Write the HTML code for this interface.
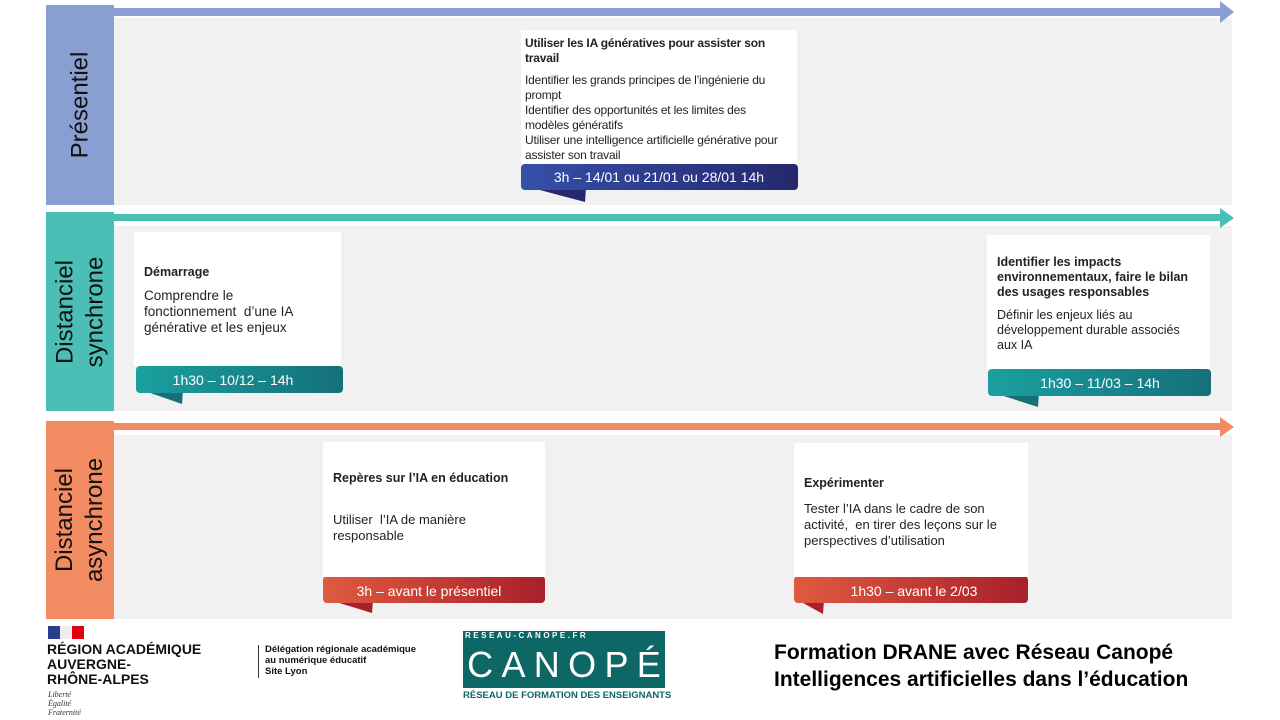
<!DOCTYPE html>
<html><head><meta charset="utf-8"><style>
*{margin:0;padding:0;box-sizing:border-box}
body{width:1280px;height:720px;background:#fff;position:relative;overflow:hidden;font-family:"Liberation Sans","DejaVu Sans",sans-serif;}
.a{position:absolute}
.lab{position:absolute;left:46px;width:68px;display:flex;align-items:center;justify-content:center;color:#111;}
.lab span{transform:rotate(-90deg);white-space:nowrap;font-size:24px;line-height:30px;text-align:center}
.gray{position:absolute;background:#f1f1f1;left:114px;width:1118px}
.card{position:absolute;background:#fff;font-size:12.5px;color:#222;line-height:15px;padding:8px 10px}
.card b{display:block;font-size:12.5px;margin-bottom:10px}
</style></head><body>
<div class="gray" style="top:18px;height:187px"></div>
<div class="lab" style="top:5px;height:200px;background:#8a9fd1"><span>Présentiel</span></div>
<div class="a" style="left:46px;top:8px;width:1178px;height:8px;background:#8a9fd1"></div>
<svg class="a" style="left:1220px;top:1px" width="16" height="22"><polygon points="0,0 14,11 0,22" fill="#8a9fd1"/></svg>
<div class="gray" style="top:226px;height:185px"></div>
<div class="lab" style="top:212px;height:199px;background:#4bbfb6"><span>Distanciel<br>synchrone</span></div>
<div class="a" style="left:114px;top:214px;width:1110px;height:7px;background:#4bbfb6"></div>
<svg class="a" style="left:1220px;top:208px" width="16" height="20"><polygon points="0,0 14,10 0,20" fill="#4bbfb6"/></svg>
<div class="gray" style="top:435px;height:184px"></div>
<div class="lab" style="top:421px;height:198px;background:#f28b62"><span>Distanciel<br>asynchrone</span></div>
<div class="a" style="left:106px;top:423px;width:1118px;height:7px;background:#f28b62"></div>
<svg class="a" style="left:1220px;top:417px" width="16" height="20"><polygon points="0,0 14,10 0,20" fill="#f28b62"/></svg>

<svg class="a" style="left:0;top:0" width="1280" height="720">
<defs>
<linearGradient id="gb" x1="0" x2="1"><stop offset="0" stop-color="#3550a8"/><stop offset="1" stop-color="#25286e"/></linearGradient>
<linearGradient id="gt" x1="0" x2="1"><stop offset="0" stop-color="#1aa0a0"/><stop offset="1" stop-color="#15707a"/></linearGradient>
<linearGradient id="gr" x1="0" x2="1"><stop offset="0" stop-color="#e05a40"/><stop offset="1" stop-color="#a8202a"/></linearGradient>
</defs>
<polygon points="521,185 585,202 586,188" fill="#25286e"/>
<polygon points="136,388 182,404 183,390" fill="#15707a"/>
<polygon points="988,391 1038,407 1039,393" fill="#15707a"/>
<polygon points="323,598 372,613 373,600" fill="#a8202a"/>
<polygon points="794,598 823,614 824,600" fill="#a8202a"/>
<rect x="521" y="164" width="277" height="26" rx="4" fill="url(#gb)"/>
<rect x="136" y="366" width="207" height="27" rx="4" fill="url(#gt)"/>
<rect x="988" y="369" width="223" height="27" rx="4" fill="url(#gt)"/>
<rect x="323" y="576" width="222" height="27" rx="4" fill="url(#gr)"/>
<rect x="794" y="576" width="234" height="27" rx="4" fill="url(#gr)"/>
<g fill="#fff" font-family="Liberation Sans, sans-serif" font-size="14" text-anchor="middle">
<text x="659" y="182">3h – 14/01 ou 21/01 ou 28/01 14h</text>
<text x="233" y="385">1h30 – 10/12 – 14h</text>
<text x="1100" y="388">1h30 – 11/03 – 14h</text>
<text x="429" y="596">3h – avant le présentiel</text>
<text x="914" y="596">1h30 – avant le 2/03</text>
</g>
</svg>

<div class="card" style="left:521px;top:30px;width:276px;height:134px;padding:6px 14px 6px 4px;font-size:12px;line-height:15px;letter-spacing:-0.2px">
<b style="margin-bottom:7px;font-size:12px">Utiliser les IA génératives pour assister son travail</b>
Identifier les grands principes de l’ingénierie du prompt<br>Identifier des opportunités et les limites des modèles génératifs<br>Utiliser une intelligence artificielle générative pour assister son travail</div>
<div class="card" style="left:134px;top:232px;width:207px;height:134px;padding:32px 30px 0 10px;font-size:13.5px;line-height:16px"><b style="margin-bottom:8px;font-size:12.5px">Démarrage</b>Comprendre le fonctionnement &nbsp;d’une IA générative et les enjeux</div>
<div class="card" style="left:987px;top:235px;width:223px;height:134px;padding:20px 10px"><b style="margin-bottom:8px">Identifier les impacts environnementaux, faire le bilan des usages responsables</b>Définir les enjeux liés au développement durable associés aux IA</div>
<div class="card" style="left:323px;top:442px;width:222px;height:135px;padding:28px 10px;font-size:13px;line-height:16px"><b style="margin-bottom:26px">Repères sur l’IA en éducation</b>Utiliser &nbsp;l’IA de manière responsable</div>
<div class="card" style="left:794px;top:443px;width:234px;height:134px;padding:32px 10px;font-size:13px;line-height:16px"><b style="margin-bottom:10px">Expérimenter</b>Tester l’IA dans le cadre de son activité, &nbsp;en tirer des leçons sur le perspectives d’utilisation</div>

<div class="a" style="left:48px;top:626px;width:12px;height:13px;background:#2a3e8f"></div>
<div class="a" style="left:60px;top:626px;width:12px;height:13px;background:#eee"></div>
<div class="a" style="left:72px;top:626px;width:12px;height:13px;background:#e1000f"></div>
<div class="a" style="left:47px;top:642px;font-weight:bold;font-size:14px;line-height:15px;color:#111">RÉGION ACADÉMIQUE<br>AUVERGNE-<br>RHÔNE-ALPES</div>
<div class="a" style="left:48px;top:690px;font-family:'Liberation Serif',serif;font-style:italic;font-size:8px;line-height:9px;color:#333">Liberté<br>Égalité<br>Fraternité</div>
<div class="a" style="left:258px;top:645px;width:1px;height:33px;background:#333"></div>
<div class="a" style="left:265px;top:644px;font-weight:bold;font-size:9.5px;line-height:11px;color:#111">Délégation régionale académique<br>au numérique éducatif<br>Site Lyon</div>
<div class="a" style="left:463px;top:631px;width:202px;height:57px;background:#0d6766;overflow:hidden">
<div style="position:absolute;left:2px;top:0;font-size:8px;color:#fff;letter-spacing:2.5px;font-weight:bold">RESEAU-CANOPE.FR</div>
<div style="position:absolute;left:0;top:12px;width:202px;display:flex;justify-content:space-around;font-size:36px;line-height:44px;color:#fff"><span>C</span><span>A</span><span>N</span><span>O</span><span>P</span><span>É</span></div>
</div>
<div class="a" style="left:463px;top:690px;font-size:9.5px;font-weight:bold;color:#0d6766">RÉSEAU DE FORMATION DES ENSEIGNANTS</div>
<div class="a" style="left:774px;top:639px;font-weight:bold;font-size:21px;line-height:27px;color:#000">Formation DRANE avec Réseau Canopé<br>Intelligences artificielles dans l’éducation</div>
</body></html>
